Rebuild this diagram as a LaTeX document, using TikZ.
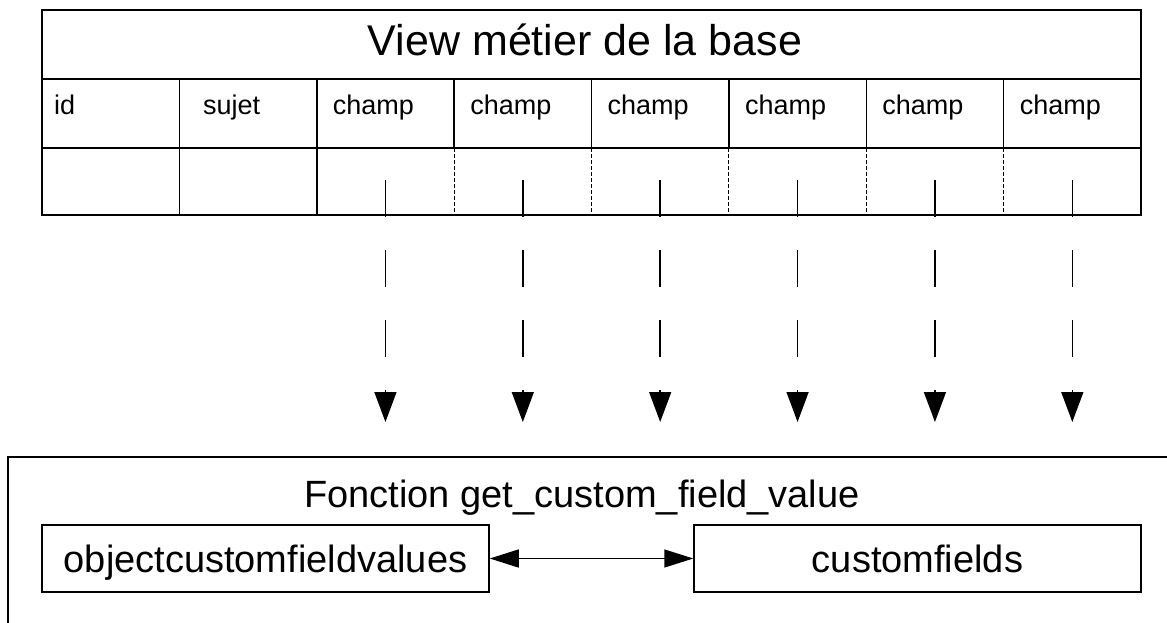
\documentclass[tikz,border=0pt]{standalone}
\usepackage{fontspec}
\setmainfont{Liberation Sans}
\usetikzlibrary{arrows.meta}
\begin{document}
\begin{tikzpicture}[x=1pt,y=-1pt,
  grid/.style={line width=1.5pt, draw=black},
  thindash/.style={line width=1pt, dash pattern=on 4pt off 2pt},
  flow/.style={line width=1.5pt, dash pattern=on 37pt off 33pt, -{Triangle[length=30pt,width=22pt]}},
  hdr/.style={anchor=base west, inner sep=0pt, font=\fontsize{27}{30}\selectfont},
  box/.style={draw, line width=1.5pt, minimum width=447pt, minimum height=67pt, inner sep=0pt, font=\fontsize{38}{42}\selectfont, text height=32pt, text depth=5pt},
  link/.style={line width=1.5pt, {Triangle[length=29pt,width=18pt]}-{Triangle[length=29pt,width=18pt]}}
]
\useasboundingbox (0,0) rectangle (1167,623);
\clip (0,0) rectangle (1167,623);
% table
\node[draw, line width=1.8pt, minimum width=1099pt, minimum height=205pt, inner sep=0pt, outer sep=0pt, anchor=north west] (table) at (42,10) {};
\draw[grid] (42,79) -- (1141,79);
\draw[grid] (42,148) -- (1141,148);
\foreach \i in {1,...,7}{
  \pgfmathsetmacro\xx{42+137.375*\i}
  \draw[grid] (\xx,79) -- (\xx,148);
}
\foreach \i in {1,2}{
  \pgfmathsetmacro\xx{42+137.375*\i}
  \draw[grid] (\xx,148) -- (\xx,215);
}
\foreach \i in {3,...,7}{
  \pgfmathsetmacro\xx{42+137.375*\i}
  \draw[thindash] (\xx,148) -- (\xx,215);
}
\node[anchor=base, inner sep=0pt, font=\fontsize{43}{48}\selectfont] (title) at (585,56) {View métier de la base};
\node[hdr] (hid) at (54,115) {id};
\node[hdr] (hsujet) at (203,115) {sujet};
\foreach \i in {2,...,7}{
  \pgfmathsetmacro\xx{42+137.375*\i+16}
  \node[hdr] (hc\i) at (\xx,115) {champ};
}
% connectors
\foreach \i in {2,...,7}{
  \pgfmathsetmacro\xx{42+137.375*(\i+0.5)}
  \coordinate (s\i) at (\xx,180);
  \coordinate (e\i) at (\xx,422);
  \draw[flow] (s\i) -- (e\i);
}
% function box
\node[draw, line width=1.8pt, minimum width=1250pt, minimum height=250pt, inner sep=0pt, outer sep=0pt, anchor=north west] (func) at (8,457) {};
\node[anchor=base, inner sep=0pt, font=\fontsize{38}{42}\selectfont] (ftitle) at (582,507) {Fonction get\_custom\_field\_value};
\node[box] (ocfv) at (265.5,558.5) {objectcustomfieldvalues};
\node[box] (cf) at (917.5,558.5) {customfields};
\draw[link] (ocfv) -- (cf);
\end{tikzpicture}
\end{document}
